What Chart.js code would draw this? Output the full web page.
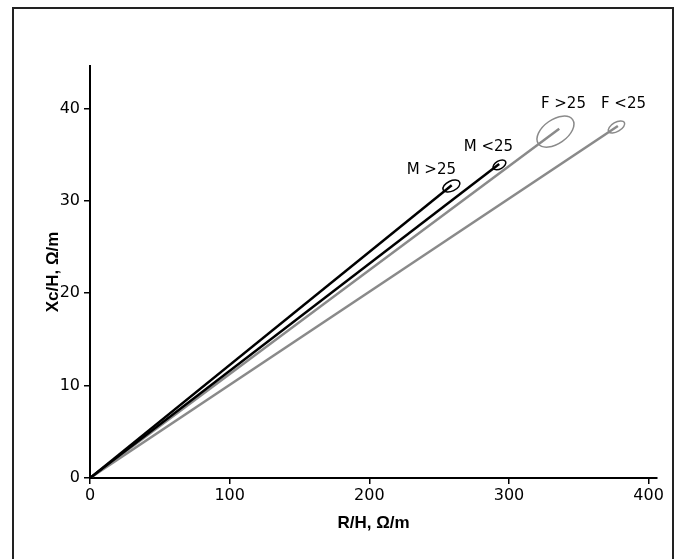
<!DOCTYPE html>
<html>
<head>
<meta charset="utf-8">
<script src="https://cdn.jsdelivr.net/npm/chart.js@4/dist/chart.umd.min.js"></script>
<style>
    body { margin: 0; background: #fff; }
    #wrap { position: relative; width: 682px; height: 559px; overflow: hidden; }
    #frame { position: absolute; left: 12px; top: 7px; width: 662px; height: 600px; border: 2px solid #222; box-sizing: border-box; }
    canvas { position: absolute; left: 0; top: 0; }
</style>
</head>
<body>
<div id="wrap">
    <div id="frame"></div>
    <canvas id="chart" width="682" height="559"></canvas>
</div>
<script>
// groups and line end points (R/H, Xc/H)
const groups = ['M >25', 'M <25', 'F >25', 'F <25'];
const endR = [259, 293, 336, 378];
const endXc = [31.7, 34.0, 37.8, 38.1];

// ellipse around each end point: centre, half spreads, tilt
const ellR = [258.8, 293.2, 333.3, 377];
const ellXc = [31.6, 33.9, 37.5, 38.0];
const ellSpreadR = [6.5, 5, 15, 6.5];
const ellSpreadXc = [0.55, 0.43, 1.3, 0.5];
const ellTilt = [-25, -30, -35, -30];

// where the group labels sit
const labelR = [244.4, 285.3, 339, 382];
const labelXc = [33.3, 35.8, 40.5, 40.5];

const xTicks = [0, 100, 200, 300, 400];
const yTicks = [0, 10, 20, 30, 40];

const colors = ['#000000', '#000000', '#8a8a8a', '#8a8a8a'];
const FONT = "'DejaVu Sans', sans-serif";
const TITLE_FONT = "'Liberation Sans', Arial, sans-serif";

const datasets = groups.map((g, i) => ({
    label: g,
    data: [{ x: 0, y: 0 }, { x: endR[i], y: endXc[i] }],
    showLine: true,
    borderColor: colors[i],
    borderWidth: 2.5,
    pointRadius: 0,
    order: i < 2 ? 0 : 1
}));

const ellipsePlugin = {
    id: 'ellipses',
    afterDatasetsDraw(chart) {
        const { ctx, scales: { x, y } } = chart;
        const pxR = x.getPixelForValue(1) - x.getPixelForValue(0);
        const pxXc = y.getPixelForValue(0) - y.getPixelForValue(1);
        ctx.save();
        groups.forEach((g, i) => {
            ctx.beginPath();
            ctx.ellipse(x.getPixelForValue(ellR[i]), y.getPixelForValue(ellXc[i]),
                ellSpreadR[i] * pxR, ellSpreadXc[i] * pxXc, ellTilt[i] * Math.PI / 180, 0, Math.PI * 2);
            ctx.strokeStyle = colors[i];
            ctx.lineWidth = 1.5;
            ctx.stroke();

            ctx.fillStyle = '#000';
            ctx.font = '15px ' + FONT;
            ctx.textAlign = 'center';
            ctx.textBaseline = 'middle';
            ctx.fillText(g, x.getPixelForValue(labelR[i]), y.getPixelForValue(labelXc[i]));
        });
        ctx.restore();
    }
};

new Chart(document.getElementById('chart'), {
    type: 'scatter',
    data: { datasets },
    options: {
        responsive: false,
        animation: false,
        layout: { padding: { top: 66, right: 25, left: 43, bottom: 25 } },
        plugins: { legend: { display: false }, tooltip: { enabled: false } },
        scales: {
            x: {
                type: 'linear',
                min: 0,
                max: 406,
                afterFit: s => { s.height = 56; },
                afterBuildTicks: s => { s.ticks = xTicks.map(v => ({ value: v })); },
                grid: { drawOnChartArea: false, drawTicks: true, tickLength: 6, color: '#000', lineWidth: 1.5 },
                border: { color: '#000', width: 2 },
                ticks: { color: '#000', font: { family: FONT, size: 16 }, padding: 2 },
                title: { display: true, text: 'R/H, Ω/m', color: '#000', font: { family: TITLE_FONT, size: 17, weight: 'bold' }, padding: 0 }
            },
            y: {
                type: 'linear',
                min: 0,
                max: 44.6,
                afterFit: s => { s.width = 47; },
                afterBuildTicks: s => { s.ticks = yTicks.map(v => ({ value: v })); },
                grid: { drawOnChartArea: false, drawTicks: true, tickLength: 6, color: '#000', lineWidth: 1.5 },
                border: { color: '#000', width: 2 },
                ticks: { color: '#000', font: { family: FONT, size: 16 }, padding: 4 },
                title: { display: true, text: 'Xc/H, Ω/m', color: '#000', font: { family: TITLE_FONT, size: 17, weight: 'bold' }, padding: 0 }
            }
        }
    },
    plugins: [ellipsePlugin]
});
</script>
</body>
</html>
